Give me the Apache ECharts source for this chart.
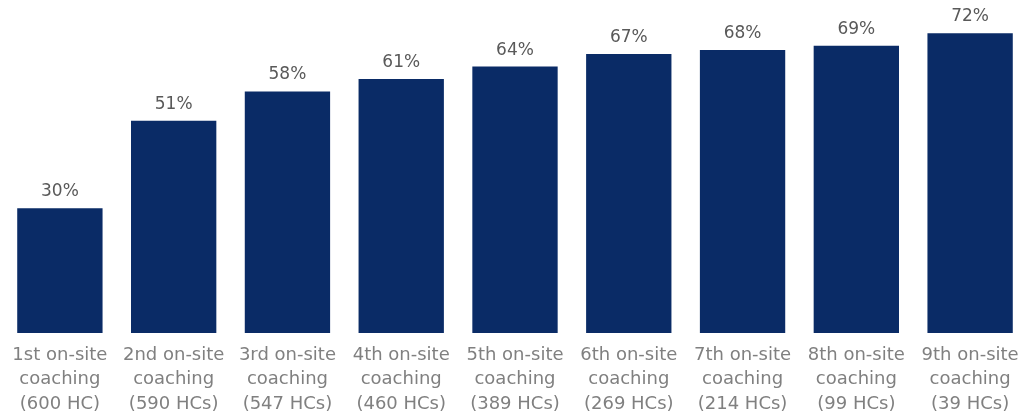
<!DOCTYPE html>
<html>
<head>
<meta charset="utf-8">
<script src="https://cdn.jsdelivr.net/npm/echarts@6/dist/echarts.min.js"></script>
<style>
  html, body { margin: 0; padding: 0; background: #fff; }
  #chart { width: 1021px; height: 415px; }
</style>
</head>
<body>
<div id="chart"></div>
<script>
const categories = [
    '1st on-site\ncoaching\n(600 HC)',
    '2nd on-site\ncoaching\n(590 HCs)',
    '3rd on-site\ncoaching\n(547 HCs)',
    '4th on-site\ncoaching\n(460 HCs)',
    '5th on-site\ncoaching\n(389 HCs)',
    '6th on-site\ncoaching\n(269 HCs)',
    '7th on-site\ncoaching\n(214 HCs)',
    '8th on-site\ncoaching\n(99 HCs)',
    '9th on-site\ncoaching\n(39 HCs)'
];
const shares = [30, 51, 58, 61, 64, 67, 68, 69, 72];

let myChart = echarts.init(document.getElementById('chart'));
myChart.setOption({
    animation: false,
    grid: { left: 3, width: 1024, top: 0, bottom: 82, outerBoundsMode: 'none', containLabel: false },
    xAxis: {
        type: 'category',
        data: categories,
        axisLine: { show: false },
        axisTick: { show: false },
        axisLabel: {
            interval: 0,
            margin: 10,
            color: '#808080',
            fontFamily: 'DejaVu Sans',
            fontSize: 18,
            lineHeight: 24.5
        }
    },
    yAxis: {
        type: 'value',
        min: 0,
        max: 80,
        show: false,
        splitLine: { show: false }
    },
    series: [{
        type: 'bar',
        data: shares,
        barWidth: '75%',
        itemStyle: { color: '#0a2b66' },
        label: {
            show: true,
            position: 'top',
            distance: 8,
            formatter: '{c}%',
            color: '#595959',
            fontFamily: 'DejaVu Sans',
            fontSize: 17
        }
    }]
});
</script>
</body>
</html>
